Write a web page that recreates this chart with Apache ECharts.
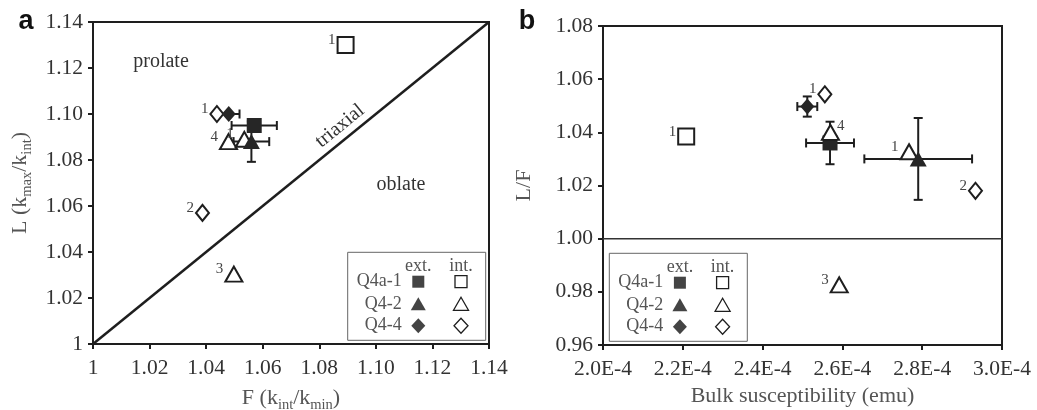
<!DOCTYPE html>
<html>
<head>
<meta charset="utf-8">
<script src="https://cdn.jsdelivr.net/npm/echarts@6/dist/echarts.min.js"></script>
<style>
  html, body { margin: 0; padding: 0; background: #fff; }
  #chart { width: 1037px; height: 410px; }
</style>
</head>
<body>
<div id="chart"></div>
<script>
// Samples and their marker shapes (filled = external, open = internal)
const samples = ['Q4a-1', 'Q4-2', 'Q4-4'];
const shapes = ['rect', 'triangle', 'diamond'];

// Panel a: foliation F (kint/kmin) vs lineation L (kmax/kint)
const aExtF = [1.057, 1.056, 1.048];
const aExtL = [1.095, 1.088, 1.100];
const aExtFErr = [0.008, 0.0063, 0.0038];
const aExtLErr = [0, 0.0088, 0];
const aIntF = [[1.0893], [1.0479, 1.0535, 1.0498], [1.0438, 1.0387]];
const aIntL = [[1.130], [1.088, 1.089, 1.0304], [1.100, 1.057]];
const aIntTag = [['1'], ['4', '1', '3'], ['1', '2']];

// Panel b: bulk susceptibility (emu) vs L/F
const bExtK = [2.569e-4, 2.79e-4, 2.512e-4];
const bExtLF = [1.036, 1.030, 1.0497];
const bExtKErr = [0.06e-4, 0.135e-4, 0.025e-4];
const bExtLFErr = [0.008, 0.0154, 0.0038];
const bIntK = [[2.2085e-4], [2.767e-4, 2.57e-4, 2.592e-4], [2.556e-4, 2.9335e-4]];
const bIntLF = [[1.0384], [1.0327, 1.040, 0.9826], [1.0543, 1.018]];
const bIntTag = [['1'], ['1', '4', '3'], ['1', '2']];

// Axis ranges and tick steps
const aRange = { min: 1, max: 1.14, step: 0.02 };
const bRangeX = { min: 2.0e-4, max: 3.0e-4, step: 0.2e-4 };
const bRangeY = { min: 0.96, max: 1.08, step: 0.02 };

const SERIF = "'Liberation Serif', 'DejaVu Serif', serif";
const INK = '#1e1e1e';
const GREY = '#555';

const symSizeInt = { rect: 16, triangle: [17, 15], diamond: [13, 16] };
const symSizeExt = { rect: 15, triangle: [17, 15], diamond: [14, 16] };

// internal-point tags that sit to the right of their marker
const tagOnRight = { 'b-1-1': true };

function renderErr(params, api) {
  const x = api.value(0), y = api.value(1), ex = api.value(2), ey = api.value(3);
  const cap = 4.5;
  const st = { stroke: INK, lineWidth: 2 };
  const kids = [];
  if (ex > 0) {
    const p = api.coord([x - ex, y]), q = api.coord([x + ex, y]);
    kids.push({ type: 'line', shape: { x1: p[0], y1: p[1], x2: q[0], y2: q[1] }, style: st });
    kids.push({ type: 'line', shape: { x1: p[0], y1: p[1] - cap, x2: p[0], y2: p[1] + cap }, style: st });
    kids.push({ type: 'line', shape: { x1: q[0], y1: q[1] - cap, x2: q[0], y2: q[1] + cap }, style: st });
  }
  if (ey > 0) {
    const p = api.coord([x, y - ey]), q = api.coord([x, y + ey]);
    kids.push({ type: 'line', shape: { x1: p[0], y1: p[1], x2: q[0], y2: q[1] }, style: st });
    kids.push({ type: 'line', shape: { x1: p[0] - cap, y1: p[1], x2: p[0] + cap, y2: p[1] }, style: st });
    kids.push({ type: 'line', shape: { x1: q[0] - cap, y1: q[1], x2: q[0] + cap, y2: q[1] }, style: st });
  }
  return { type: 'group', children: kids };
}

function panelSeries(panel, axisIdx, extX, extY, extXErr, extYErr, intX, intY, intTag) {
  const out = [];
  samples.forEach((name, i) => {
    const shape = shapes[i];
    out.push({
      type: 'scatter', name: name + ' int.', xAxisIndex: axisIdx, yAxisIndex: axisIdx,
      symbol: shape, symbolSize: symSizeInt[shape],
      itemStyle: { color: '#fff', borderColor: INK, borderWidth: 2, opacity: 1 },
      data: intX[i].map((x, j) => {
        const right = tagOnRight[panel + '-' + i + '-' + j];
        return {
          value: [x, intY[i][j]],
          label: {
            show: true, formatter: intTag[i][j],
            position: right ? 'right' : 'left', distance: 1,
            offset: right ? [-4, -6] : [0, -5],
            color: '#444', fontSize: 15, fontFamily: SERIF
          }
        };
      })
    });
    out.push({
      type: 'custom', name: name + ' err', xAxisIndex: axisIdx, yAxisIndex: axisIdx,
      renderItem: renderErr, encode: { x: 0, y: 1 }, clip: false,
      data: [[extX[i], extY[i], extXErr[i], extYErr[i]]]
    });
    out.push({
      type: 'scatter', name: name + ' ext.', xAxisIndex: axisIdx, yAxisIndex: axisIdx,
      symbol: shape, symbolSize: symSizeExt[shape],
      itemStyle: { color: '#262626', opacity: 1 },
      data: [[extX[i], extY[i]]]
    });
  });
  return out;
}

function legendGroup(x0, y0) {
  const font = '18px ' + SERIF;
  const kids = [
    { type: 'rect', shape: { x: 0, y: 0, width: 138, height: 88 },
      style: { fill: '#fff', stroke: '#666', lineWidth: 1 } },
    { type: 'text', x: 70.6, y: 13.5, style: { text: 'ext.', font: font, fill: GREY, align: 'center', verticalAlign: 'middle' } },
    { type: 'text', x: 113.3, y: 13.5, style: { text: 'int.', font: font, fill: GREY, align: 'center', verticalAlign: 'middle' } }
  ];
  const rowY = [29.4, 52, 73.4];
  samples.forEach((name, i) => {
    const cy = rowY[i];
    kids.push({ type: 'text', x: 54, y: cy, style: { text: name, font: font, fill: GREY, align: 'right', verticalAlign: 'middle' } });
    [[70.6, true], [113.3, false]].forEach(([cx, filled]) => {
      const st = filled ? { fill: '#444' } : { fill: '#fff', stroke: INK, lineWidth: 1.3 };
      const s = shapes[i];
      if (s === 'rect') {
        kids.push({ type: 'rect', shape: { x: cx - 6, y: cy - 6, width: 12, height: 12 }, style: st });
      } else if (s === 'triangle') {
        kids.push({ type: 'polygon', shape: { points: [[cx, cy - 7], [cx + 7.5, cy + 6], [cx - 7.5, cy + 6]] }, style: st });
      } else {
        kids.push({ type: 'polygon', shape: { points: [[cx, cy - 7.5], [cx + 7, cy], [cx, cy + 7.5], [cx - 7, cy]] }, style: st });
      }
    });
  });
  return { type: 'group', x: x0, y: y0, children: kids, silent: true };
}

const tickFont = { fontFamily: SERIF, fontSize: 21.5, color: '#333' };
const axisTick = { show: true, inside: false, length: 5, lineStyle: { color: INK, width: 2 } };
const nameRich = {
  n: { fontFamily: SERIF, fontSize: 22, color: GREY, lineHeight: 26, verticalAlign: 'middle' },
  s: { fontFamily: SERIF, fontSize: 14.5, color: GREY, lineHeight: 30, verticalAlign: 'bottom' }
};

function valueAxis(grid, r, fmt, name, gap, margin) {
  return {
    type: 'value', gridIndex: grid, min: r.min, max: r.max, interval: r.step,
    axisLine: { show: false }, axisTick: axisTick, splitLine: { show: false },
    axisLabel: Object.assign({ formatter: fmt, margin: margin }, tickFont),
    name: name, nameLocation: 'middle', nameGap: gap,
    nameTextStyle: { rich: nameRich }
  };
}

const fmt2 = v => (v === 1 ? '1' : v.toFixed(2));
const fmt2b = v => v.toFixed(2);
const fmtE = v => (v * 1e4).toFixed(1) + 'E-4';

const gridBase = { show: true, borderColor: INK, borderWidth: 2, backgroundColor: 'transparent',
  containLabel: false, outerBoundsMode: 'none' };

const option = {
  animation: false,
  grid: [
    Object.assign({ left: 93, top: 22, width: 396, height: 322 }, gridBase),
    Object.assign({ left: 603, top: 26, width: 399, height: 319 }, gridBase)
  ],
  xAxis: [
    valueAxis(0, aRange, fmt2, '{n|F (k}{s|int}{n|/k}{s|min}{n|)}', 39, 13),
    valueAxis(1, bRangeX, fmtE, '{n|Bulk susceptibility (emu)}', 38, 13)
  ],
  yAxis: [
    valueAxis(0, aRange, fmt2, '{n|L (k}{s|max}{n|/k}{s|int}{n|)}', 58, 10),
    valueAxis(1, bRangeY, fmt2b, '{n|L/F}', 66, 10)
  ],
  series: [
    { type: 'line', xAxisIndex: 0, yAxisIndex: 0, symbol: 'none', silent: true,
      lineStyle: { color: INK, width: 2.5 }, data: [[aRange.min, aRange.min], [aRange.max, aRange.max]] },
    { type: 'line', xAxisIndex: 1, yAxisIndex: 1, symbol: 'none', silent: true,
      lineStyle: { color: '#333', width: 1.5 }, data: [[bRangeX.min, 1], [bRangeX.max, 1]] }
  ].concat(
    panelSeries('a', 0, aExtF, aExtL, aExtFErr, aExtLErr, aIntF, aIntL, aIntTag),
    panelSeries('b', 1, bExtK, bExtLF, bExtKErr, bExtLFErr, bIntK, bIntLF, bIntTag)
  ),
  graphic: [
    { type: 'text', x: 26, y: 22, style: { text: 'a', font: 'bold 27px "Liberation Sans", Arial, sans-serif', fill: '#111', align: 'center', verticalAlign: 'middle' } },
    { type: 'text', x: 527, y: 22, style: { text: 'b', font: 'bold 27px "Liberation Sans", Arial, sans-serif', fill: '#111', align: 'center', verticalAlign: 'middle' } },
    { type: 'text', x: 161, y: 62, style: { text: 'prolate', font: '20px ' + SERIF, fill: '#333', align: 'center', verticalAlign: 'middle' } },
    { type: 'text', x: 401, y: 185, style: { text: 'oblate', font: '20px ' + SERIF, fill: '#333', align: 'center', verticalAlign: 'middle' } },
    { type: 'text', x: 340, y: 126, rotation: 39.1 * Math.PI / 180,
      style: { text: 'triaxial', font: '20px ' + SERIF, fill: '#333', align: 'center', verticalAlign: 'middle' } },
    legendGroup(347.7, 252.3),
    legendGroup(609.3, 253.3)
  ]
};

echarts.init(document.getElementById('chart'), null, { renderer: 'canvas' }).setOption(option);
</script>
</body>
</html>
